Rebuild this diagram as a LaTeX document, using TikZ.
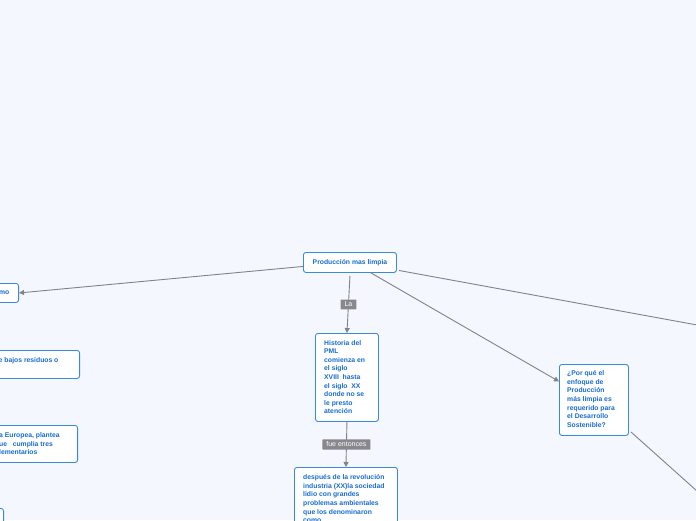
\documentclass[tikz,border=0pt]{standalone}
\usepackage{fontspec}
\setmainfont{Liberation Sans}
\usetikzlibrary{arrows.meta,calc}
\definecolor{bgc}{RGB}{244,247,253}
\definecolor{bordc}{RGB}{58,136,228}
\definecolor{txtc}{RGB}{22,108,210}
\definecolor{linec}{RGB}{128,130,142}
\definecolor{labc}{RGB}{136,136,140}
\tikzset{
  box/.style={draw=bordc, fill=white, line width=0.9pt, rounded corners=2.5pt,
    text=txtc, font=\fontsize{6.8}{8.6}\selectfont\bfseries, align=left,
    inner xsep=0pt, inner ysep=0pt},
  txt/.style={text=txtc, font=\fontsize{6.8}{8.6}\selectfont\bfseries, align=left,
    inner sep=0pt},
  conn/.style={draw=linec, line width=0.9pt},
  arr/.style={-{Triangle[width=5pt,length=5pt]}},
  lab/.style={fill=labc, text=white, font=\fontsize{7}{8}\selectfont,
    inner xsep=4pt, inner ysep=2.5pt, rounded corners=0.5pt}
}
\begin{document}
\begin{tikzpicture}[x=1pt,y=-1pt]
\useasboundingbox (0,0) rectangle (696,520);
\fill[bgc] (0,0) rectangle (696,520);
\clip (0,0) rectangle (696,520);

% central
\node[box, anchor=north west, minimum width=93pt, minimum height=20pt, align=center] (c) at (303,252) {Producción mas limpia};

% left partial boxes
\node[box, anchor=north east, minimum width=90pt, minimum height=19pt] (l1) at (19,283) {};
\node[txt, anchor=west] (l1t) at (-1,293) {mo};

\node[box, anchor=north east, minimum width=150pt, minimum height=28pt] (l2) at (80,350) {};
\node[txt, anchor=north west] (l2t) at (-1.5,357) {e bajos residuos o};

\node[box, anchor=north east, minimum width=150pt, minimum height=37pt] (l3) at (78,425) {};
\node[txt, anchor=north west] (l3t) at (-1,432.5) {a Europea, plantea\\ue\ \ \ cumplia tres\\lementarios};

\node[box, anchor=north east, minimum width=60pt, minimum height=40pt] (l4) at (4,508) {};

% historia
\node[box, anchor=north west, minimum width=63pt, minimum height=88pt] (h) at (315,333) {};
\node[txt, anchor=north west] (ht) at (324,340) {Historia del\\PML\\comienza en\\el siglo\\XVIII\ \ hasta\\el siglo\ \ XX\\donde no se\\le presto\\atención};

% despues
\node[box, anchor=north west, minimum width=103pt, minimum height=70pt] (d) at (294,467) {};
\node[txt, anchor=north west] (dt) at (303,474.5) {después de la revolución\\industria (XX)la sociedad\\lidio con grandes\\problemas ambientales\\que los denominaron\\como};

% pregunta
\node[box, anchor=north west, minimum width=69pt, minimum height=71pt] (q) at (559,364) {};
\node[txt, anchor=north west] (qt) at (567,370.5) {¿Por qué el\\enfoque de\\Producción\\más limpia es\\requerido para\\el Desarrollo\\Sostenible?};

% off-canvas ends
\coordinate (r1) at (730,331);
\coordinate (r2) at (735,525);

% connectors
\draw[conn,arr] ($(c.west)+(0,4)$) -- (l1.east);
\draw[conn,arr] ($(c.south)+(0,3)$) -- node[lab]{La} (h.north);
\draw[conn,arr] (h.south) -- node[lab]{fue entonces} (d.north);
\draw[conn,arr] ($(c.south)+(21,0)$) -- ($(q.west)+(0,-18.5)$);
\draw[conn] ($(c.east)+(2,8)$) -- (r1);
\draw[conn] ($(q.south east)+(2,-4)$) -- (r2);
\end{tikzpicture}
\end{document}
